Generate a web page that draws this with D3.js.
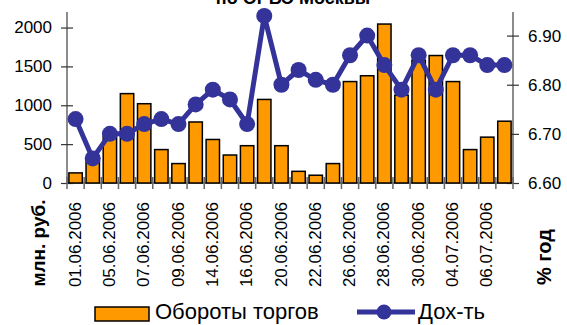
<!DOCTYPE html>
<html>
<head>
<meta charset="utf-8">
<script src="https://cdn.jsdelivr.net/npm/d3@7/dist/d3.min.js"></script>
<style>
  html, body { margin: 0; padding: 0; background: #fff; }
  svg { display: block; font-family: "Liberation Sans", Arial, sans-serif; }
</style>
</head>
<body>
<svg id="chart" width="567" height="325"></svg>
<script>
// Trading days, June–July 2006
const dates = [
  "01.06.2006", "02.06.2006", "05.06.2006", "06.06.2006", "07.06.2006",
  "08.06.2006", "09.06.2006", "13.06.2006", "14.06.2006", "15.06.2006",
  "16.06.2006", "19.06.2006", "20.06.2006", "21.06.2006", "22.06.2006",
  "23.06.2006", "26.06.2006", "27.06.2006", "28.06.2006", "29.06.2006",
  "30.06.2006", "03.07.2006", "04.07.2006", "05.07.2006", "06.07.2006",
  "07.07.2006"
];

// Trading volume, mln rub.
const turnover = [
  130, 280, 600, 1150, 1020, 430, 250, 785, 560, 360,
  480, 1075, 480, 150, 100, 250, 1305, 1380, 2045, 1130,
  1580, 1640, 1305, 430, 590, 795
];

// Yield, % per annum
const yieldPct = [
  6.73, 6.65, 6.70, 6.70, 6.72, 6.73, 6.72, 6.76, 6.79, 6.77,
  6.72, 6.94, 6.80, 6.83, 6.81, 6.80, 6.86, 6.90, 6.84, 6.79,
  6.86, 6.79, 6.86, 6.86, 6.84, 6.84
];

const leftTicks = [0, 500, 1000, 1500, 2000];
const rightTicks = [6.60, 6.70, 6.80, 6.90];

const svg = d3.select("#chart");

const plot = { left: 67, right: 513, top: 12, bottom: 183 };

const x = d3.scaleBand().domain(dates).range([plot.left, plot.right]).padding(0);
const yL = d3.scaleLinear().domain([0, 2200]).range([plot.bottom, plot.top]);
const yR = d3.scaleLinear().domain([6.6, 6.948]).range([plot.bottom, plot.top]);

const axisColor = "#666";

// Title (top part runs off the canvas)
svg.append("text")
  .attr("x", 293).attr("y", 4)
  .attr("text-anchor", "middle")
  .attr("font-size", 18).attr("font-weight", "bold")
  .text("по ОРБЭ Москвы");

// Left axis
const gL = svg.append("g")
  .attr("transform", `translate(${plot.left},0)`)
  .call(d3.axisLeft(yL).tickValues(leftTicks).tickSize(6).tickPadding(9).tickFormat(d3.format("d")));
gL.select(".domain").attr("d", `M0,${plot.top}V${plot.bottom}`).attr("stroke", axisColor).attr("stroke-width", 1.5);
gL.selectAll(".tick line").attr("x1", 6).attr("stroke", "#333").attr("stroke-width", 1.2);
gL.selectAll(".tick text").attr("font-size", 17).attr("fill", "#000")
  .attr("font-family", "Liberation Sans, Arial, sans-serif");

// Right axis
const gR = svg.append("g")
  .attr("transform", `translate(${plot.right},0)`)
  .call(d3.axisRight(yR).tickValues(rightTicks).tickSize(6).tickPadding(9).tickFormat(d3.format(".2f")));
gR.select(".domain").attr("d", `M0,${plot.top}V${plot.bottom}`).attr("stroke", axisColor).attr("stroke-width", 1.5);
gR.selectAll(".tick line").attr("x1", -6).attr("stroke", "#333").attr("stroke-width", 1.2);
gR.selectAll(".tick text").attr("font-size", 17).attr("fill", "#000")
  .attr("font-family", "Liberation Sans, Arial, sans-serif");

// Category axis: baseline and tick marks between categories
const boundaries = dates.map(d => x(d)).concat([x(dates[dates.length - 1]) + x.bandwidth()]);
svg.append("g").selectAll("line").data(boundaries).join("line")
  .attr("x1", d => d).attr("x2", d => d)
  .attr("y1", plot.bottom - 6).attr("y2", plot.bottom + 6)
  .attr("stroke", axisColor).attr("stroke-width", 1.5);
svg.append("line")
  .attr("x1", plot.left).attr("x2", plot.right)
  .attr("y1", plot.bottom).attr("y2", plot.bottom)
  .attr("stroke", axisColor).attr("stroke-width", 1.5);

// Date labels, every other category
svg.append("g").selectAll("text")
  .data(dates.filter((d, i) => i % 2 === 0))
  .join("text")
  .attr("transform", d => `translate(${x(d) + x.bandwidth() / 2 - 1},202) rotate(-90)`)
  .attr("text-anchor", "end")
  .attr("dy", "0.36em")
  .attr("font-size", 17)
  .text(d => d);

// Bars
const barW = x.bandwidth() * 0.78;
svg.append("g").selectAll("rect")
  .data(dates.map((d, i) => ({ d, v: turnover[i] })))
  .join("rect")
  .attr("x", p => x(p.d) + (x.bandwidth() - barW) / 2)
  .attr("width", barW)
  .attr("y", p => yL(p.v))
  .attr("height", p => yL(0) - yL(p.v))
  .attr("fill", "#FF9900")
  .attr("stroke", "#000")
  .attr("stroke-width", 1.5);

// Yield line with markers
const pts = dates.map((d, i) => ({ d, v: yieldPct[i] }));
const cx = p => x(p.d) + x.bandwidth() / 2;
svg.append("path")
  .datum(pts)
  .attr("fill", "none")
  .attr("stroke", "#333399")
  .attr("stroke-width", 5)
  .attr("stroke-linejoin", "round")
  .attr("d", d3.line().x(cx).y(p => yR(p.v)));
svg.append("g").selectAll("circle").data(pts).join("circle")
  .attr("cx", cx).attr("cy", p => yR(p.v))
  .attr("r", 8)
  .attr("fill", "#333399");

// Axis titles
svg.append("text")
  .attr("transform", "translate(45,243) rotate(-90)")
  .attr("text-anchor", "middle")
  .attr("font-size", 19).attr("font-weight", "bold")
  .text("млн. руб.");
svg.append("text")
  .attr("transform", "translate(551,257) rotate(-90)")
  .attr("text-anchor", "middle")
  .attr("font-size", 20).attr("font-weight", "bold")
  .text("% год");

// Legend
const lg = svg.append("g");
lg.append("rect")
  .attr("x", 95).attr("y", 307).attr("width", 54).attr("height", 14)
  .attr("fill", "#FF9900").attr("stroke", "#000").attr("stroke-width", 1.5);
lg.append("text")
  .attr("x", 155).attr("y", 319)
  .attr("font-size", 22)
  .text("Обороты торгов");
lg.append("line")
  .attr("x1", 357).attr("x2", 415).attr("y1", 312).attr("y2", 312)
  .attr("stroke", "#333399").attr("stroke-width", 5);
lg.append("circle")
  .attr("cx", 384).attr("cy", 312).attr("r", 7.5)
  .attr("fill", "#333399");
lg.append("text")
  .attr("x", 418).attr("y", 319)
  .attr("font-size", 22)
  .text("Дох-ть");
</script>
</body>
</html>
